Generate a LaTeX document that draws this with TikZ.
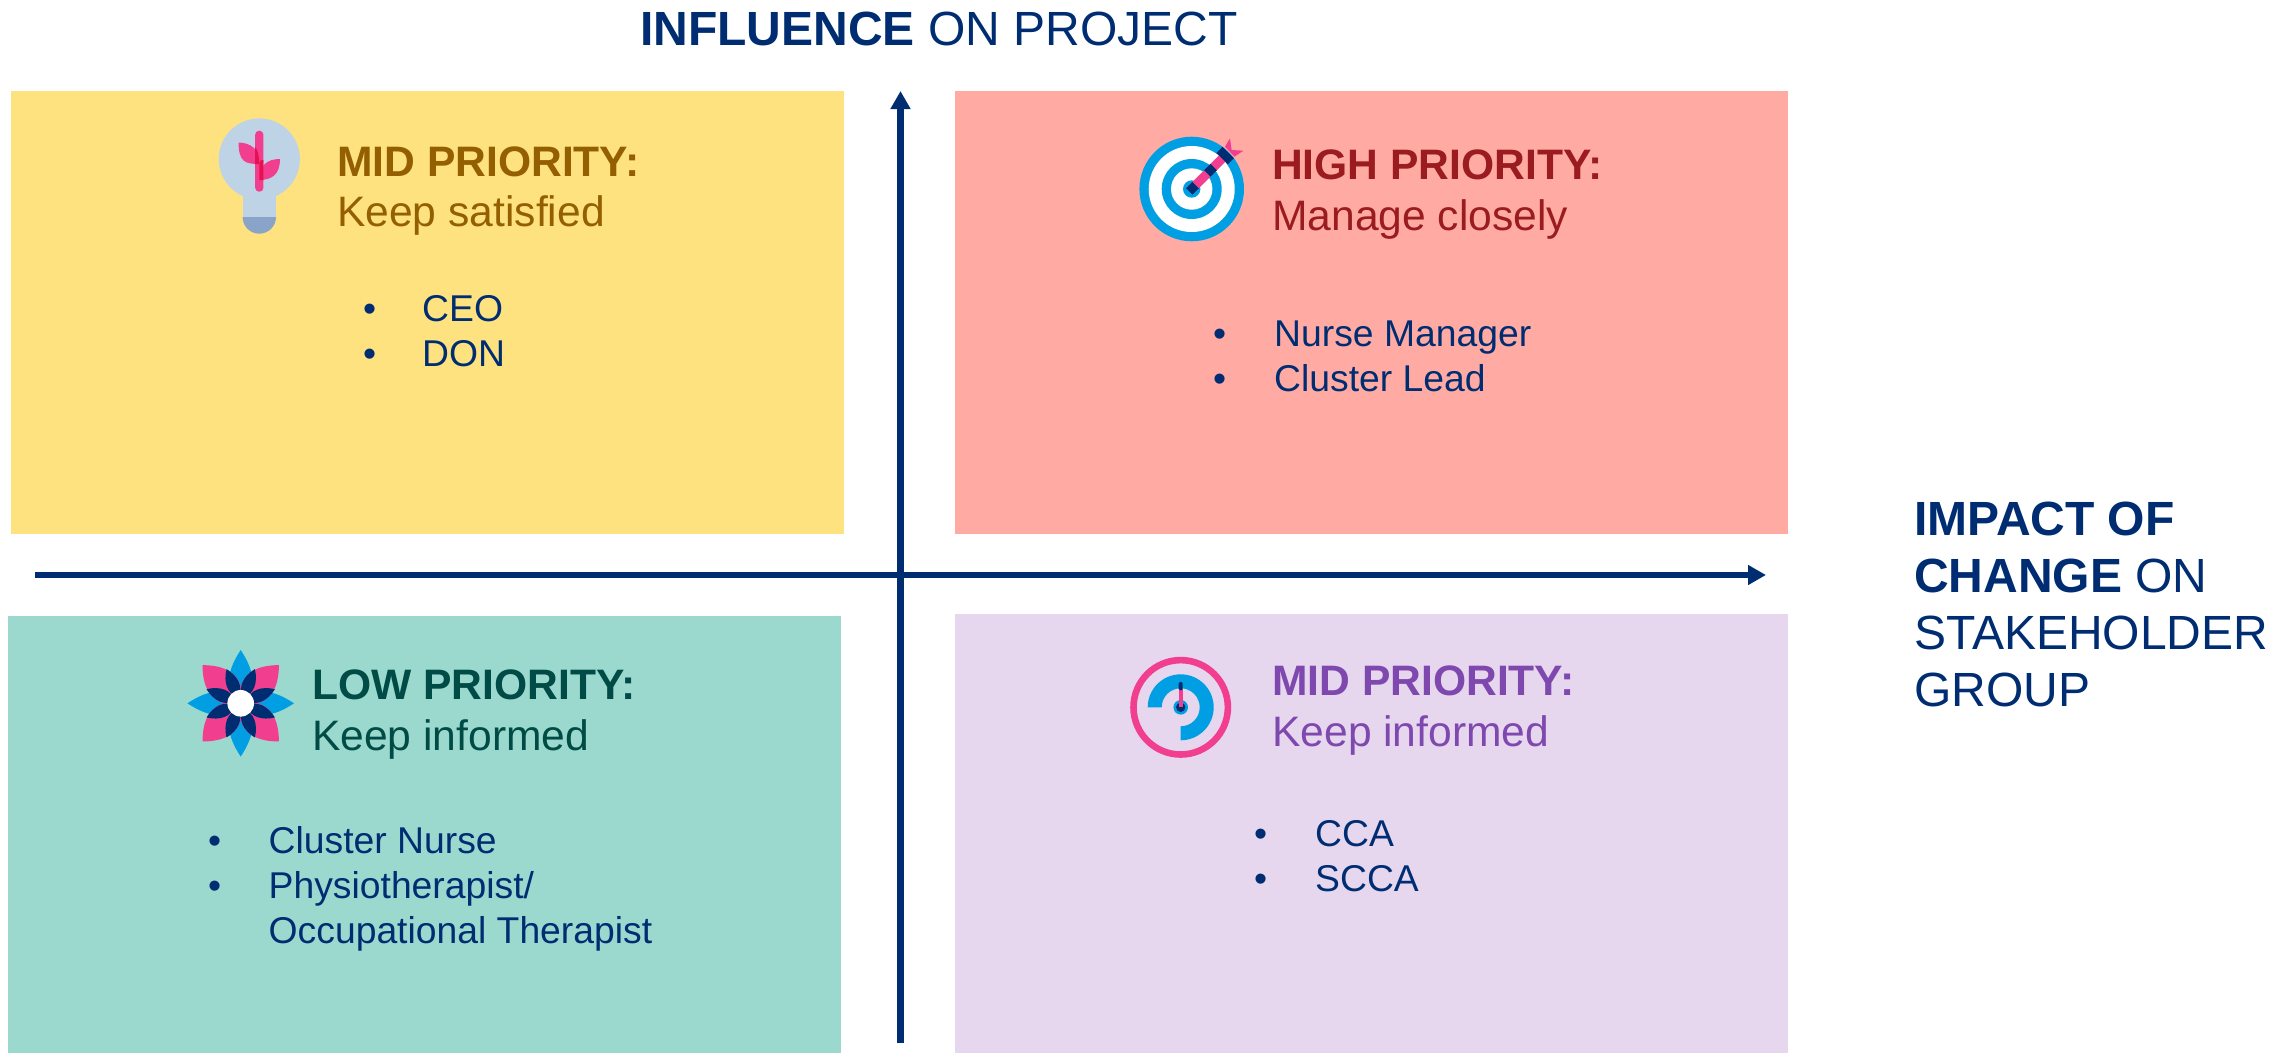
\documentclass[tikz,border=0pt]{standalone}
\usepackage{fontspec}
\setmainfont{Liberation Sans}
\usetikzlibrary{arrows.meta}
\definecolor{navy}{HTML}{002D72}
\definecolor{cyellow}{HTML}{FEE280}
\definecolor{cred}{HTML}{FFABA3}
\definecolor{cteal}{HTML}{9BD9CE}
\definecolor{cpurple}{HTML}{E6D7EF}
\definecolor{tyellow}{HTML}{945F00}
\definecolor{tred}{HTML}{9B1C20}
\definecolor{tteal}{HTML}{004B46}
\definecolor{tpurple}{HTML}{7F48AE}
\definecolor{iblue}{HTML}{009FE3}
\definecolor{ipink}{HTML}{F23E8F}
\definecolor{ibulb}{HTML}{BFD3E6}
\definecolor{ibase}{HTML}{8AA3C8}
\definecolor{ideep}{HTML}{E8104F}
\tikzset{
  txt/.style={inner sep=0,anchor=base west},
  head/.style={txt,font=\fontsize{42.6}{50}\selectfont\bfseries},
  sub/.style={txt,font=\fontsize{42.6}{50}\selectfont},
  item/.style={txt,text=navy,font=\fontsize{37.3}{45}\selectfont},
  axtitle/.style={txt,text=navy,font=\fontsize{48}{57}\selectfont},
  axis/.style={draw=navy,line width=6.4pt,-{Triangle[length=18pt,width=19pt]}},
}
\begin{document}
\begin{tikzpicture}[x=1pt,y=-1pt]
\useasboundingbox (0,0) rectangle (2291,1053);
% panels
\fill[cyellow] (11,91) rectangle (844,534);
\fill[cred] (955,91) rectangle (1788,534);
\fill[cteal] (8,616) rectangle (841,1053);
\fill[cpurple] (955,614) rectangle (1788,1053);
% axes
\coordinate (hs) at (35,575);
\coordinate (he) at (1766,575);
\coordinate (vs) at (900.5,1043);
\coordinate (ve) at (900.5,91);
\draw[axis] (hs) -- (he);
\draw[axis] (vs) -- (ve);
% titles
\node[axtitle] (t1) at (640,45) {\textbf{INFLUENCE} ON PROJECT};
\node[axtitle] (t2a) at (1914,535) {\textbf{IMPACT OF}};
\node[axtitle] (t2b) at (1914,592) {\textbf{CHANGE} ON};
\node[axtitle] (t2c) at (1914,649) {STAKEHOLDER};
\node[axtitle] (t2d) at (1914,706) {GROUP};
% yellow
\node[head,text=tyellow] (y1) at (337,176) {MID PRIORITY:};
\node[sub,text=tyellow] (y2) at (337,226) {Keep satisfied};
\node[item] (yb1) at (363,321) {•};
\node[item] (yi1) at (422,321) {CEO};
\node[item] (yb2) at (363,366) {•};
\node[item] (yi2) at (422,366) {DON};
% red
\node[head,text=tred] (r1) at (1272,179) {HIGH PRIORITY:};
\node[sub,text=tred] (r2) at (1272,230) {Manage closely};
\node[item] (rb1) at (1213,346) {•};
\node[item] (ri1) at (1274,346) {Nurse Manager};
\node[item] (rb2) at (1213,391) {•};
\node[item] (ri2) at (1274,391) {Cluster Lead};
% teal
\node[head,text=tteal] (l1) at (312,699) {LOW PRIORITY:};
\node[sub,text=tteal] (l2) at (312,750) {Keep informed};
\node[item] (lb1) at (208,853) {•};
\node[item] (li1) at (268.5,853) {Cluster Nurse};
\node[item] (lb2) at (208,898) {•};
\node[item] (li2) at (268.5,898) {Physiotherapist/};
\node[item] (li3) at (268.5,943) {Occupational Therapist};
% purple
\node[head,text=tpurple] (p1) at (1272,695) {MID PRIORITY:};
\node[sub,text=tpurple] (p2) at (1272,746) {Keep informed};
\node[item] (pb1) at (1254,846) {•};
\node[item] (pi1) at (1315,846) {CCA};
\node[item] (pb2) at (1254,891) {•};
\node[item] (pi2) at (1315,891) {SCCA};
% bulb
\begin{scope}[shift={(259.3,159)},x=1pt,y=1pt]
  \fill[ibulb] (0,0) circle (40.6);
  \fill[ibulb] (-16.7,-25) rectangle (16.7,-58);
  \fill[ibase] (-16.7,-58) -- (16.7,-58) arc (0:-180:16.7) -- cycle;
  \fill[ipink] (-20.7,16.5) .. controls (-8,16) and (0,10) .. (0,-5) .. controls (-14,-5) and (-20.7,-3) .. (-20.7,16.5) -- cycle;
  \fill[ipink] (20.7,0) .. controls (8,0) and (0,-6) .. (0,-21) .. controls (12,-21) and (20.7,-16) .. (20.7,0) -- cycle;
  \fill[ipink,rounded corners=4pt] (-4.15,28.3) rectangle (4.15,-32.7);
  \fill[ideep] (-4.15,12) .. controls (-1.5,9) and (0,3) .. (0,-5) -- (-4.15,-5) -- cycle;
  \fill[ideep] (4.15,-21) -- (0,-21) -- (0,-5) .. controls (0,-2) and (1,-1) .. (4.15,-1) -- cycle;
\end{scope}
% target
\begin{scope}[shift={(1191.7,189)},x=1pt,y=1pt]
  \fill[iblue] (0,0) circle (52.3);
  \fill[white] (0,0) circle (43);
  \fill[iblue] (0,0) circle (30);
  \fill[white] (0,0) circle (20.7);
  \fill[iblue] (0,0) circle (8.7);
  \fill[ipink] (33.3,42.3) -- (38.3,50.7) -- (40,39) -- (51.7,38.3) -- (42.7,32.3) -- cycle;
  \begin{scope}[rotate=45]
    \fill[ipink] (0,-4.5) rectangle (46,4.5);
    \fill[navy] (-3.5,-4.5) rectangle (5.5,4.5);
    \fill[navy] (22,-4.5) rectangle (31,4.5);
    \fill[navy] (43,-8) rectangle (51.5,8);
  \end{scope}
\end{scope}
% flower
\begin{scope}[shift={(240.7,703.3)},x=1pt,y=1pt]
  \foreach \a in {0,90,180,270}
    \fill[iblue,rotate=\a] (0,0) .. controls (14,17) and (32,14) .. (53.3,0) .. controls (32,-14) and (14,-17) .. (0,0) -- cycle;
  \foreach \a in {45,135,225,315}
    \fill[ipink,rotate=\a] (0,0) .. controls (15,22) and (35,19) .. (54,0) .. controls (35,-19) and (15,-22) .. (0,0) -- cycle;
  \foreach \a in {22.5,67.5,...,337.5}
    \fill[navy,rotate=\a] (6,0) .. controls (14,9) and (26,8) .. (37,0) .. controls (26,-8) and (14,-9) .. (6,0) -- cycle;
  \fill[white] (0,0) circle (13.3);
\end{scope}
% gauge
\begin{scope}[shift={(1180.7,707.3)},x=1pt,y=1pt]
  \draw[ipink,line width=6.6pt] (0,0) circle (47.2);
  \fill[iblue] (-33,0) arc (180:-90:33) -- (0,-19) arc (-90:180:19) -- cycle;
  \fill[iblue] (0,0) circle (7.3);
  \fill[navy] (0,0) circle (4.7);
  \fill[ipink] (-2,0) rectangle (2,18);
  \fill[navy,rounded corners=1.5pt] (-2,17) rectangle (2,25.5);
\end{scope}
\end{tikzpicture}
\end{document}
